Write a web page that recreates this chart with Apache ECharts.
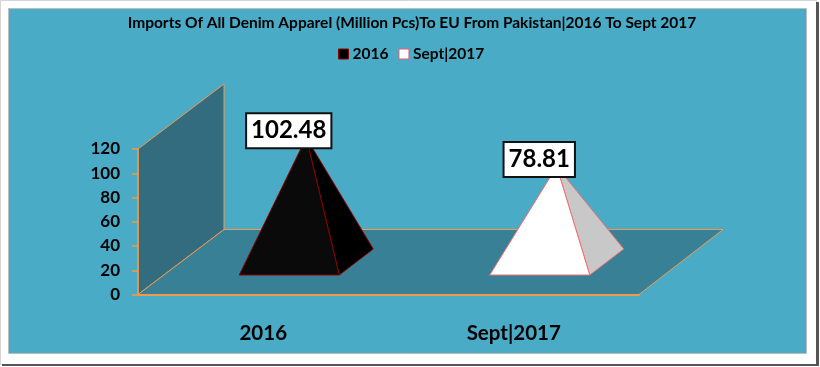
<!DOCTYPE html>
<html><head><meta charset="utf-8">
<style>html,body{margin:0;padding:0;background:#fff}#c{width:820px;height:367px}</style>
<script src="https://cdn.jsdelivr.net/npm/echarts@6/dist/echarts.min.js"></script>
</head><body><div id="c"></div>
<script>
const titleText = 'Imports Of All Denim Apparel (Million Pcs)To EU From Pakistan|2016 To Sept 2017';
const categories = ['2016', 'Sept|2017'];
const values = [102.48, 78.81];
const axisMin = 0, axisMax = 120, axisStep = 20;

const depthX = 86, depthY = -65, halfW = 50, halfDX = 17, halfDY = 13;
const ORANGE = '#F2994A', FONT = 'Lato, "Noto Sans", sans-serif';

const chart = echarts.init(document.getElementById('c'), null, {renderer: 'canvas'});

function frameItem(params, api) {
  const cs = params.coordSys;
  const x0 = cs.x, x1 = cs.x + cs.width, yb = api.coord([0, axisMin])[1], yt = api.coord([0, axisMax])[1];
  return {type: 'group', children: [
    {type: 'polygon', shape: {points: [[x0, yb], [x0, yt], [x0 + depthX, yt + depthY], [x0 + depthX, yb + depthY]]},
      style: {fill: '#336C7F', stroke: ORANGE, lineWidth: 1}},
    {type: 'polygon', shape: {points: [[x0, yb], [x0 + depthX, yb + depthY], [x1 + depthX - 2, yb + depthY], [x1, yb]]},
      style: {fill: '#388096', stroke: ORANGE, lineWidth: 1}}
  ]};
}

function pyramidItem(front, side, edge) {
  return function (params, api) {
    const p = api.coord([api.value(0), api.value(1)]);
    const base = api.coord([api.value(0), axisMin]);
    const cx = base[0] + depthX / 2, cy = base[1] + depthY / 2;
    const apex = [cx, p[1] + depthY / 2];
    const fl = [cx - halfW - halfDX, cy + halfDY], fr = [cx + halfW - halfDX, cy + halfDY], br = [cx + halfW + halfDX, cy - halfDY];
    return {type: 'group', children: [
      {type: 'polygon', shape: {points: [apex, fr, br]}, style: {fill: side, stroke: edge, lineWidth: 1}},
      {type: 'polygon', shape: {points: [apex, fl, fr]}, style: {fill: front, stroke: edge, lineWidth: 1}},
      {type: 'text', z2: 10, style: {
        text: api.value(1).toFixed(2), x: base[0] + 25.5, y: apex[1] - 7, align: 'center', verticalAlign: 'middle',
        font: 'bold 24px ' + FONT, fill: '#000', backgroundColor: '#fff', borderColor: '#111', borderWidth: 2,
        padding: [5, 4, 4, 4]
      }}
    ]};
  };
}

chart.setOption({
  animation: false,
  backgroundColor: '#fff',
  graphic: [
    {type: 'rect', z: -10, silent: true, shape: {x: 0.5, y: 0.5, width: 816, height: 364}, style: {fill: '#fff', stroke: '#d4d4d4', lineWidth: 1}},
    {type: 'rect', z: -9, silent: true, shape: {x: 816, y: 2, width: 3, height: 364}, style: {fill: '#555'}},
    {type: 'rect', z: -9, silent: true, shape: {x: 2, y: 364, width: 817, height: 2}, style: {fill: '#555'}},
    {type: 'rect', z: -8, silent: true, shape: {x: 8.5, y: 8.5, width: 798, height: 345}, style: {fill: '#4AABC6', stroke: '#bdbdbd', lineWidth: 1}}
  ],
  title: {text: titleText, left: 407, textAlign: 'center', top: 10,
    textStyle: {fontFamily: FONT, fontWeight: 'bold', fontSize: 15.5, color: '#000'}},
  legend: {top: 41, left: 333, itemWidth: 10, itemHeight: 10, itemGap: 10,
    data: [
      {name: categories[0], icon: 'rect', itemStyle: {color: '#000', borderColor: '#8B0000', borderWidth: 1}},
      {name: categories[1], icon: 'rect', itemStyle: {color: '#fff', borderColor: '#E06070', borderWidth: 1}}
    ],
    textStyle: {fontFamily: FONT, fontWeight: 'bold', fontSize: 15.5, color: '#000', padding: [0, 0, 0, -1]}},
  grid: {left: 138, right: 181, top: 149, bottom: 72.5},
  xAxis: {type: 'category', data: categories, z: 5,
    axisLine: {lineStyle: {color: ORANGE, width: 2}}, axisTick: {show: false},
    axisLabel: {margin: 28, fontFamily: FONT, fontWeight: 'bold', fontSize: 20.5, color: '#000'}},
  yAxis: {type: 'value', min: axisMin, max: axisMax, interval: axisStep, z: 5,
    splitLine: {show: false},
    axisLine: {show: true, lineStyle: {color: ORANGE, width: 1.5}},
    axisTick: {show: true, length: 6, lineStyle: {color: ORANGE, width: 1.5}},
    axisLabel: {margin: 18, fontFamily: FONT, fontWeight: 'bold', fontSize: 17, color: '#000'}},
  series: [
    {type: 'custom', name: 'frame', z: 1, silent: true, clip: false, renderItem: frameItem, data: [[0, 0]]},
    {type: 'custom', name: categories[0], z: 3, clip: false, color: '#000',
      renderItem: pyramidItem('#0A0A0A', '#000', '#8B0000'), encode: {x: 0, y: 1}, data: [[0, values[0]]]},
    {type: 'custom', name: categories[1], z: 3, clip: false, color: '#fff',
      renderItem: pyramidItem('#fff', '#C8C8C8', '#F07070'), encode: {x: 0, y: 1}, data: [[1, values[1]]]}
  ]
});
</script></body></html>
